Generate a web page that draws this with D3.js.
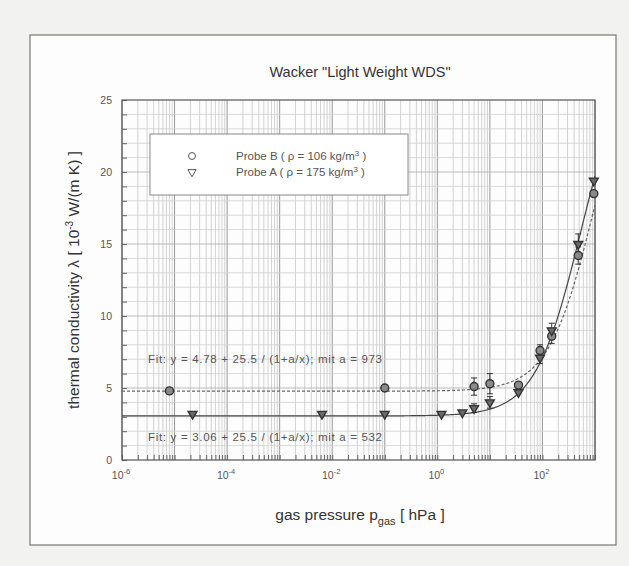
<!DOCTYPE html>
<html>
<head>
<meta charset="utf-8">
<script src="https://cdn.jsdelivr.net/npm/d3@7"></script>
<style>
  body { margin: 0; background: #f2f2f0; }
  text { font-family: "Liberation Sans", Arial, sans-serif; fill: #333; }
</style>
</head>
<body>
<div id="chart"></div>
<script>
// Probe B (circles)
const probeBPressure = [8e-6, 0.1, 5, 10, 35, 90, 150, 480, 950]
const probeBLambda = [4.8, 5.0, 5.1, 5.3, 5.2, 7.6, 8.6, 14.2, 18.5]
const probeBError = [0, 0, 0.6, 0.7, 0, 0.4, 0.5, 0.6, 0]
// Probe A (triangles)
const probeAPressure = [2.2e-5, 6.4e-3, 0.1, 1.2, 3, 5, 10, 35, 90, 150, 480, 950]
const probeALambda = [3.2, 3.2, 3.2, 3.2, 3.3, 3.6, 4.0, 4.7, 7.1, 9.0, 15.0, 19.4]
const probeAError = [0, 0, 0, 0, 0, 0.3, 0.4, 0, 0.4, 0.5, 0.7, 0]
// fits: y = offset + amp / (1 + a/x)
const fitNames = ["B", "A"]
const fitOffset = [4.78, 3.06]
const fitAmp = [25.5, 25.5]
const fitA = [973, 532]
const fitLabels = [
    "Fit: y = 4.78 + 25.5 / (1+a/x);  mit a = 973",
    "Fit: y = 3.06 + 25.5 / (1+a/x);  mit a = 532"
]
const fitLabelY = [7, 1.6]
const yTicks = [0, 5, 10, 15, 20, 25]
const xTickExp = [-6, -4, -2, 0, 2]

const width = 629
const height = 566
const plot = {left: 122, top: 100, right: 595, bottom: 460}

const svg = d3.select("#chart").append("svg")
    .attr("width", width)
    .attr("height", height)

// page frame
svg.append("rect")
    .attr("x", 30).attr("y", 35)
    .attr("width", 586).attr("height", 510)
    .attr("fill", "#fdfdfd")
    .attr("stroke", "#777")
    .attr("stroke-width", 1.2)

const x = d3.scaleLog().domain([1e-6, 1e3]).range([plot.left, plot.right])
const y = d3.scaleLinear().domain([0, 25]).range([plot.bottom, plot.top])

const g = svg.append("g")

// grid - vertical
const minor = []
for (let e = -6; e < 3; e++) {
    for (let k = 2; k <= 9; k++) minor.push(k * Math.pow(10, e))
}
const major = d3.range(-6, 4).map(e => Math.pow(10, e))

g.selectAll(".vminor").data(minor).enter().append("line")
    .attr("x1", d => x(d)).attr("x2", d => x(d))
    .attr("y1", plot.top).attr("y2", plot.bottom)
    .attr("stroke", "#c8c8c8").attr("stroke-width", 0.8)
g.selectAll(".vmajor").data(major).enter().append("line")
    .attr("x1", d => x(d)).attr("x2", d => x(d))
    .attr("y1", plot.top).attr("y2", plot.bottom)
    .attr("stroke", "#999").attr("stroke-width", 1)

// grid - horizontal
g.selectAll(".hgrid").data(d3.range(1, 25)).enter().append("line")
    .attr("x1", plot.left).attr("x2", plot.right)
    .attr("y1", d => y(d)).attr("y2", d => y(d))
    .attr("stroke", d => d % 5 == 0 ? "#aaa" : "#cfcfcf")
    .attr("stroke-width", 0.8)

// axes (ticks inside)
const yAxis = d3.axisLeft(y).tickValues(d3.range(0, 26)).tickSize(-5).tickFormat("")
g.append("g").attr("transform", `translate(${plot.left},0)`).call(yAxis)
    .call(a => a.select(".domain").remove())
    .selectAll("line").attr("stroke", "#666")

const xAxis = d3.axisBottom(x).tickValues(minor.concat(major)).tickSize(-5).tickFormat("")
g.append("g").attr("transform", `translate(0,${plot.bottom})`).call(xAxis)
    .call(a => a.select(".domain").remove())
    .selectAll("line").attr("stroke", "#666")

g.append("rect")
    .attr("x", plot.left).attr("y", plot.top)
    .attr("width", plot.right - plot.left).attr("height", plot.bottom - plot.top)
    .attr("fill", "none").attr("stroke", "#555").attr("stroke-width", 1.2)

// tick labels
g.selectAll(".ylab").data(yTicks).enter().append("text")
    .attr("x", plot.left - 10).attr("y", d => y(d) + 4)
    .attr("text-anchor", "end")
    .attr("font-size", 10.5)
    .style("fill", "#555")
    .text(d => d)

const xl = g.selectAll(".xlab").data(xTickExp).enter().append("text")
    .attr("x", d => x(Math.pow(10, d)) - 1).attr("y", plot.bottom + 19)
    .attr("text-anchor", "middle")
    .attr("font-size", 10.5)
    .style("fill", "#555")
xl.append("tspan").text("10")
xl.append("tspan").attr("dy", -5).attr("font-size", 7.5).text(d => d)

// title and axis labels
svg.append("text")
    .attr("x", 360).attr("y", 77)
    .attr("text-anchor", "middle")
    .attr("font-size", 14.5)
    .text("Wacker \"Light Weight WDS\"")

const xt = svg.append("text")
    .attr("x", 360).attr("y", 520)
    .attr("text-anchor", "middle")
    .attr("font-size", 15.5)
xt.append("tspan").text("gas pressure p")
xt.append("tspan").attr("dy", 5).attr("font-size", 11).text("gas")
xt.append("tspan").attr("dy", -5).text("   [ hPa ]")

const yt = svg.append("text")
    .attr("transform", `translate(79,${(plot.top + plot.bottom) / 2}) rotate(-90)`)
    .attr("text-anchor", "middle")
    .attr("font-size", 15.5)
yt.append("tspan").text("thermal conductivity λ  [ 10")
yt.append("tspan").attr("dy", -6).attr("font-size", 10).text("-3")
yt.append("tspan").attr("dy", 6).text(" W/(m K) ]")

// fit curves
const curveP = d3.range(-6, 3.001, 0.02).map(e => Math.pow(10, e))
fitNames.forEach((name, i) => {
    const line = d3.line()
        .x(p => x(p))
        .y(p => y(fitOffset[i] + fitAmp[i] / (1 + fitA[i] / p)))
    g.append("path")
        .datum(curveP)
        .attr("d", line)
        .attr("fill", "none")
        .attr("stroke", i == 0 ? "#666" : "#444")
        .attr("stroke-width", 1.2)
        .attr("stroke-dasharray", i == 0 ? "3,2" : null)
    g.append("text")
        .attr("x", 148).attr("y", y(fitLabelY[i]) + 4)
        .attr("font-size", 11.5)
        .attr("textLength", 234)
        .attr("lengthAdjust", "spacing")
        .style("fill", "#555")
        .text(fitLabels[i])
})

// data
const circles = probeBPressure.map((p, i) => ({p: p, v: probeBLambda[i], e: probeBError[i]}))
const triangles = probeAPressure.map((p, i) => ({p: p, v: probeALambda[i], e: probeAError[i]}))

function errorBars(data) {
    const eb = g.append("g").selectAll("g").data(data.filter(d => d.e > 0)).enter().append("g")
        .attr("stroke", "#333").attr("stroke-width", 1)
    eb.append("line")
        .attr("x1", d => x(d.p)).attr("x2", d => x(d.p))
        .attr("y1", d => y(d.v - d.e)).attr("y2", d => y(d.v + d.e))
    eb.append("line")
        .attr("x1", d => x(d.p) - 3).attr("x2", d => x(d.p) + 3)
        .attr("y1", d => y(d.v - d.e)).attr("y2", d => y(d.v - d.e))
    eb.append("line")
        .attr("x1", d => x(d.p) - 3).attr("x2", d => x(d.p) + 3)
        .attr("y1", d => y(d.v + d.e)).attr("y2", d => y(d.v + d.e))
}
errorBars(circles)
errorBars(triangles)

const triSym = d3.symbol().type(d3.symbolTriangle).size(34)

g.selectAll(".circ").data(circles).enter().append("circle")
    .attr("cx", d => x(d.p)).attr("cy", d => y(d.v))
    .attr("r", 4)
    .attr("fill", "#8a8a8a").attr("stroke", "#333").attr("stroke-width", 1.4)

g.selectAll(".tri").data(triangles).enter().append("path")
    .attr("d", triSym)
    .attr("transform", d => `translate(${x(d.p)},${y(d.v)}) rotate(180)`)
    .attr("fill", "#6a6a6a").attr("stroke", "#333").attr("stroke-width", 1.4)

// legend
const lg = svg.append("g").attr("transform", "translate(150,134)")
lg.append("rect").attr("width", 258).attr("height", 61)
    .attr("fill", "#fff").attr("stroke", "#888").attr("stroke-width", 1)
lg.append("circle").attr("cx", 42).attr("cy", 22).attr("r", 3.5)
    .attr("fill", "none").attr("stroke", "#555")
lg.append("path").attr("d", d3.symbol().type(d3.symbolTriangle).size(30))
    .attr("transform", "translate(42,38) rotate(180)")
    .attr("fill", "none").attr("stroke", "#555")

const legendText = [["Probe B ( ρ = 106 kg/m", " )"], ["Probe A ( ρ = 175 kg/m", " )"]]
legendText.forEach((t, i) => {
    const tx = lg.append("text").attr("x", 86).attr("y", 26 + i * 16)
        .attr("font-size", 11.5).style("fill", "#555")
    tx.append("tspan").text(t[0])
    tx.append("tspan").attr("dy", -4).attr("font-size", 8).text("3")
    tx.append("tspan").attr("dy", 4).text(t[1])
})
</script>
</body>
</html>
